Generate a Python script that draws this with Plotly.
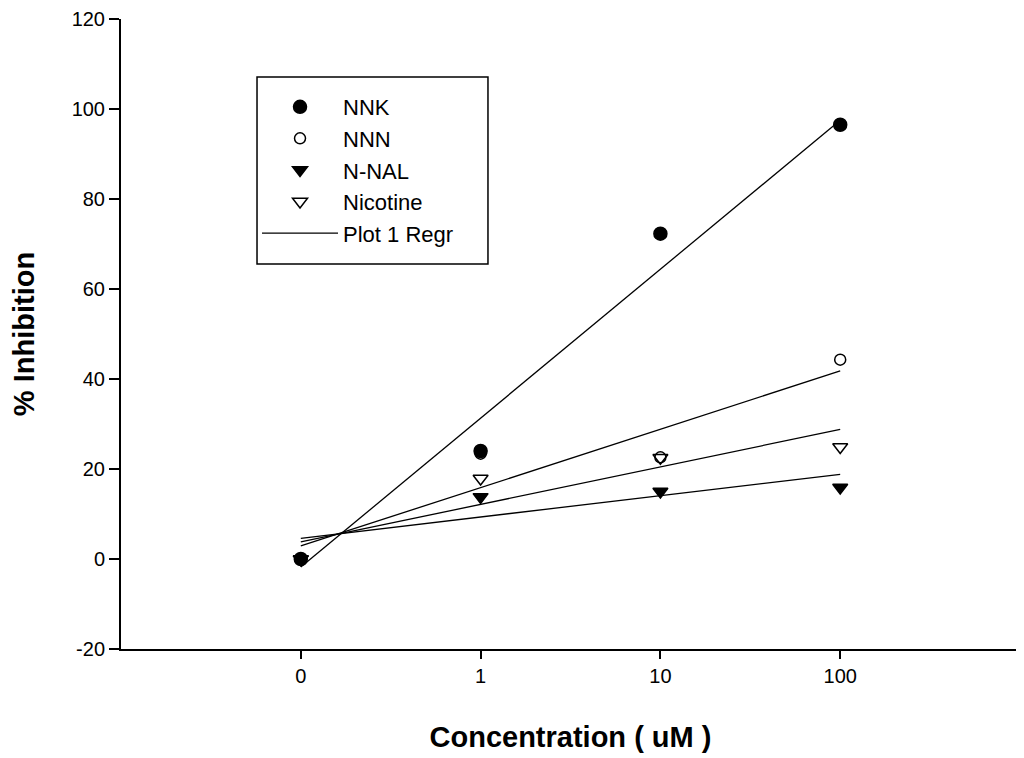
import plotly.graph_objects as go

# --- data ---
conc_labels = ["0", "1", "10", "100"]
positions = list(range(len(conc_labels)))  # evenly spaced (log-like) categories

nnk = [0.0, 24.0, 72.3, 96.5]
nnn = [0.0, 23.4, 22.6, 44.3]
nnal = [0.0, 13.8, 15.0, 15.9]
nicotine = [0.0, 17.9, 22.5, 24.9]

# regression line endpoints (value at "0" and at "100")
reg_nnk = [-1.8, 97.5]
reg_nnn = [2.9, 41.8]
reg_nnal = [4.6, 18.8]
reg_nicotine = [3.8, 28.8]

y_ticks = [-20, 0, 20, 40, 60, 80, 100, 120]
y_tick_labels = ["-20", "0", "20", "40", "60", "80", "100", "120"]

FONT = "Liberation Sans, Arial, sans-serif"

fig = go.Figure()

reg_x = [positions[0], positions[-1]]
for i, reg in enumerate([reg_nnk, reg_nnn, reg_nnal, reg_nicotine]):
    fig.add_trace(go.Scatter(
        x=reg_x, y=reg, mode="lines",
        line=dict(color="black", width=1.3),
        name="Plot 1 Regr", showlegend=(i == 0), legendrank=5,
    ))

series = [
    ("NNK", nnk, "circle", 13),
    ("NNN", nnn, "circle-open", 11),
    ("N-NAL", nnal, "triangle-down", 13),
    ("Nicotine", nicotine, "triangle-down-open", 13),
]
for rank, (name, vals, sym, sz) in enumerate(series, start=1):
    fig.add_trace(go.Scatter(
        x=positions, y=vals, mode="markers", name=name, legendrank=rank,
        marker=dict(symbol=sym, size=sz, color="black",
                    line=dict(color="black", width=1.5)),
    ))

# legend frame (decoration)
fig.add_shape(type="rect", xref="paper", yref="paper",
              x0=0.1513, x1=0.4082, y0=0.6111, y1=0.9079,
              line=dict(color="black", width=1.5), fillcolor="rgba(0,0,0,0)",
              layer="above")

fig.update_layout(
    width=1024, height=758,
    margin=dict(l=113, r=12, t=11, b=117),
    paper_bgcolor="white", plot_bgcolor="white",
    font=dict(family=FONT, color="black"),
    showlegend=True,
    legend=dict(
        x=0.1513, y=0.8937, xanchor="left", yanchor="top",
        borderwidth=0, bgcolor="rgba(0,0,0,0)",
        font=dict(size=22, family=FONT), itemwidth=76,
    ),
    xaxis=dict(
        range=[-1, 4], tickvals=positions, ticktext=conc_labels,
        showline=True, linecolor="black", linewidth=2,
        ticks="outside", ticklen=8, tickwidth=1.5, tickcolor="black",
        showgrid=False, zeroline=False, automargin=False,
        tickfont=dict(size=20, family=FONT),
        title=dict(text="<b>Concentration ( uM )</b>",
                   font=dict(size=29, family=FONT), standoff=41),
    ),
    yaxis=dict(
        range=[-20, 120], tickvals=y_ticks, ticktext=y_tick_labels,
        showline=True, linecolor="black", linewidth=2,
        ticks="outside", ticklen=10, tickwidth=1.5, tickcolor="black",
        showgrid=False, zeroline=False, automargin=False,
        tickfont=dict(size=20, family=FONT),
        title=dict(text="<b>% Inhibition</b>",
                   font=dict(size=29, family=FONT), standoff=42),
    ),
)

fig.write_html("out.html")
